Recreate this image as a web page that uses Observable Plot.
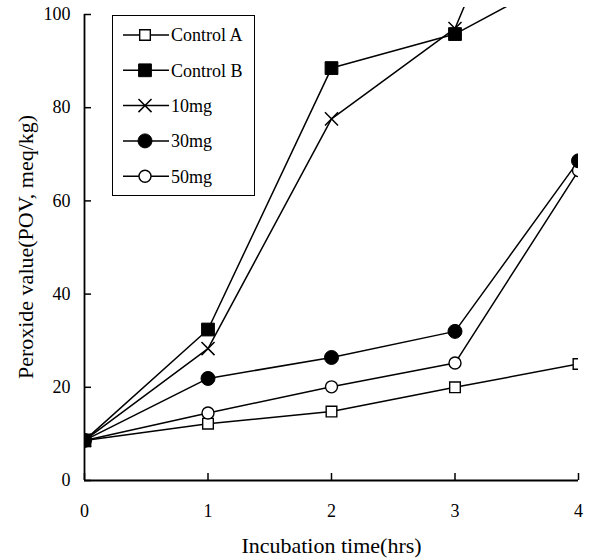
<!DOCTYPE html>
<html>
<head>
<meta charset="utf-8">
<script src="https://cdn.jsdelivr.net/npm/d3@7"></script>
<script src="https://cdn.jsdelivr.net/npm/@observablehq/plot@0.6"></script>
<style>
  html, body { margin: 0; padding: 0; background: white; }
  #chart { position: relative; width: 591px; height: 560px; }
</style>
</head>
<body>
<div id="chart"></div>
<script>
// ---- data ----
const hours = [0, 1, 2, 3, 4];
const xTicks = [0, 1, 2, 3, 4];
const yTicks = [0, 20, 40, 60, 80, 100];
const seriesNames = ["Control A", "Control B", "10mg", "30mg", "50mg"];
const controlA = [8.6, 12.2, 14.8, 20.0, 25.0];
const controlB = [8.6, 32.4, 88.5, 95.8, 110];
const mg10 = [8.6, 28.3, 77.6, 97.0, 160];
const mg30 = [8.6, 21.9, 26.4, 32.0, 68.6];
const mg50 = [8.6, 14.5, 20.1, 25.2, 66.5];
const xLabel = "Incubation time(hrs)";
const yLabel = "Peroxide value(POV, meq/kg)";

// ---- styling ----
const FONT = "'Liberation Serif', 'Times New Roman', Times, serif";
const styles = {
  "Control A": {symbol: "square", fill: "white", r: 6, stroke: 1.4},
  "Control B": {symbol: "square", fill: "black", r: 7.2, stroke: 1},
  "10mg": {symbol: "times", fill: "none", r: 6, stroke: 1.5},
  "30mg": {symbol: "circle", fill: "black", r: 7, stroke: 1},
  "50mg": {symbol: "circle", fill: "white", r: 6, stroke: 1.4}
};
const valuesByName = {"Control A": controlA, "Control B": controlB, "10mg": mg10, "30mg": mg30, "50mg": mg50};
const rowsFor = name => hours.map((h, i) => ({series: name, hour: h, pov: valuesByName[name][i]}));

const W = 591, H = 560;
const mL = 84, mR = 13, mT = 7, mB = 80;
const frameW = W - mL - mR, frameH = H - mT - mB;
const tickLen = 7;

const drawOrder = ["Control A", "50mg", "30mg", "10mg", "Control B"];

const marks = [];
for (const name of drawOrder) {
  marks.push(Plot.line(rowsFor(name), {x: "hour", y: "pov", stroke: "black", strokeWidth: 1.5, clip: true}));
}
for (const name of drawOrder) {
  const s = styles[name];
  marks.push(Plot.dot(rowsFor(name), {
    x: "hour", y: "pov", symbol: () => s.symbol, r: s.r,
    fill: s.fill, stroke: "black", strokeWidth: s.stroke, clip: true
  }));
}

const plot = Plot.plot({
  width: W, height: H,
  marginLeft: mL, marginRight: mR, marginTop: mT, marginBottom: mB,
  style: {fontFamily: FONT, fontSize: "18px", color: "black", background: "white"},
  x: {domain: [0, 4]},
  y: {domain: [0, 101.5]},
  symbol: {type: "identity"},
  marks: [
    Plot.axisX({ticks: xTicks, tickFormat: d => String(d), tickSize: 0, tickPadding: 24, fontSize: 18, label: null}),
    Plot.axisY({ticks: yTicks, tickFormat: d => String(d), tickSize: 0, tickPadding: 14, fontSize: 18, label: null}),
    Plot.ruleX([0], {y1: 0, y2: 100, stroke: "black", strokeWidth: 1.8}),
    Plot.ruleY([0], {x1: 0, x2: 4, stroke: "black", strokeWidth: 1.8}),
    Plot.tickY(yTicks, {y: d => d, insetRight: frameW - tickLen, stroke: "black", strokeWidth: 1.5}),
    Plot.tickX(xTicks, {x: d => d, insetTop: frameH - tickLen, stroke: "black", strokeWidth: 1.5}),
    Plot.text([xLabel], {frameAnchor: "bottom", lineAnchor: "middle", textAnchor: "middle", dy: 65, fontSize: 22, text: d => d}),
    Plot.text([yLabel], {frameAnchor: "left", lineAnchor: "middle", textAnchor: "middle", rotate: -90, dx: -59, dy: 3, fontSize: 22, text: d => d}),
    ...marks
  ]
});

const chart = document.getElementById("chart");
chart.appendChild(plot);

// ---- legend ----
const symbolTypes = {square: d3.symbolSquare, circle: d3.symbolCircle, times: d3.symbolTimes};
const legend = d3.select(chart).append("div")
  .style("position", "absolute").style("left", "112px").style("top", "15px")
  .style("width", "141px").style("height", "179px")
  .style("border", "1.5px solid black").style("background", "white");
const lsvg = legend.append("svg").attr("width", 141).attr("height", 179);
seriesNames.forEach((name, i) => {
  const s = styles[name];
  const g = lsvg.append("g").attr("transform", `translate(0,${19 + i * 35.3})`);
  g.append("line").attr("x1", 10).attr("x2", 56).attr("y1", 0).attr("y2", 0)
    .attr("stroke", "black").attr("stroke-width", 1.5);
  g.append("path").attr("d", d3.symbol(symbolTypes[s.symbol], Math.PI * s.r * s.r)())
    .attr("transform", "translate(32,0)")
    .attr("fill", s.fill).attr("stroke", "black").attr("stroke-width", s.stroke);
  g.append("text").attr("x", 58).attr("dy", "0.35em").attr("fill", "black")
    .attr("font-family", FONT).attr("font-size", 18).text(name);
});
</script>
</body>
</html>
